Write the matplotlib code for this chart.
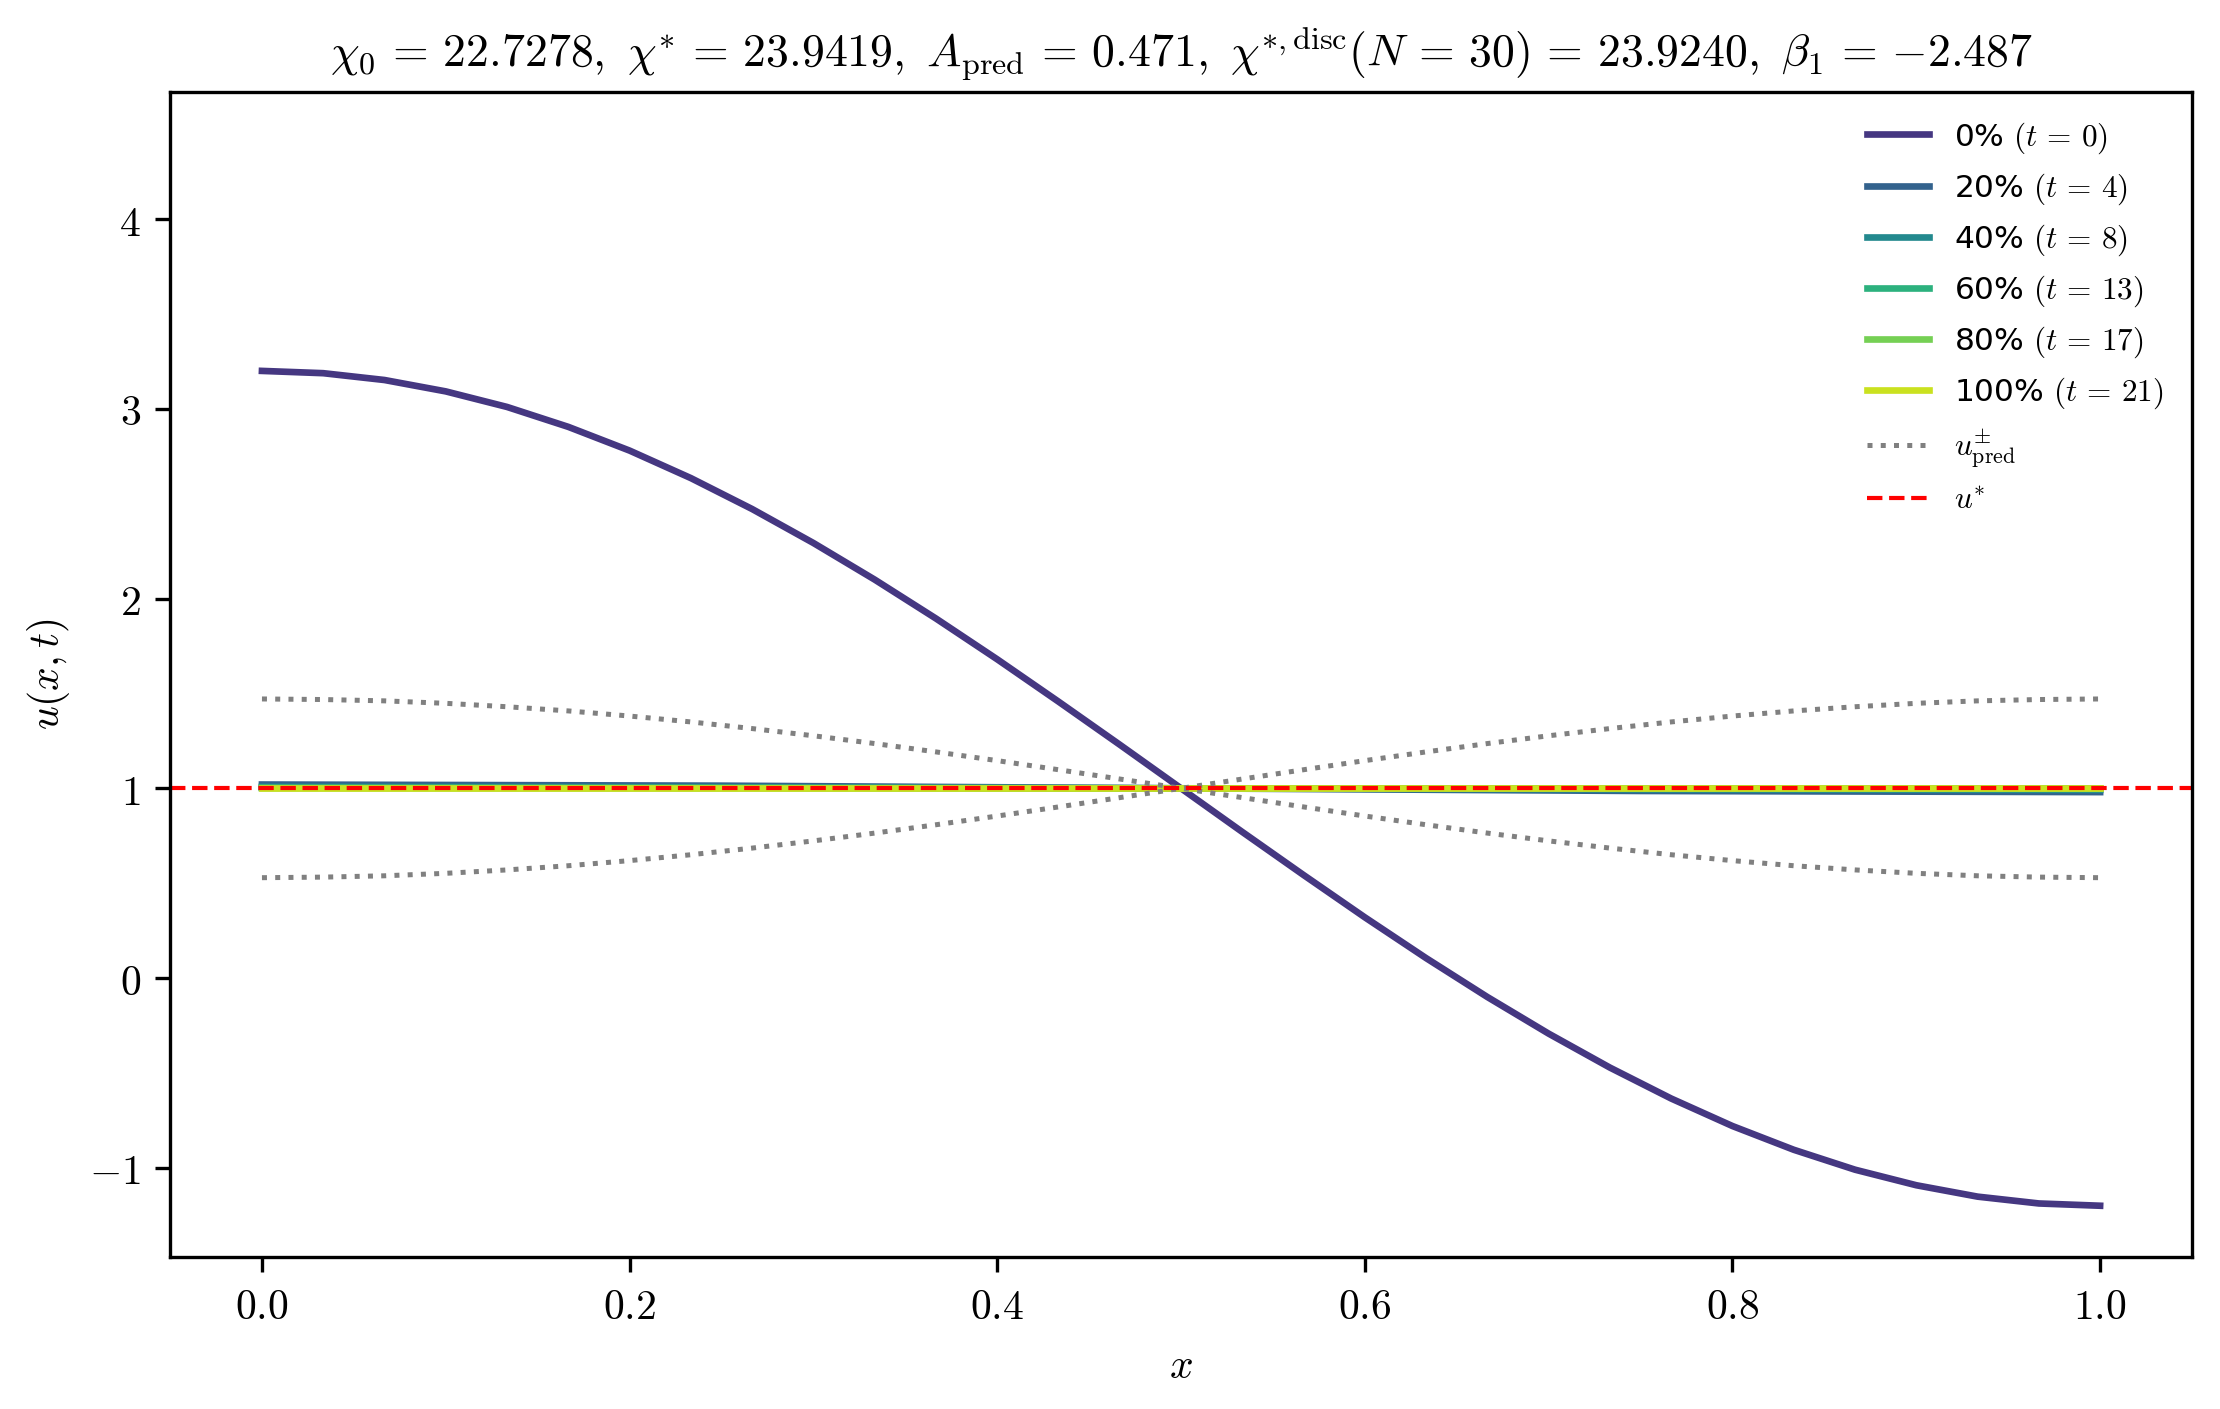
import numpy as np
import matplotlib
matplotlib.use("Agg")
import matplotlib.pyplot as plt
from matplotlib.ticker import FuncFormatter

plt.rcParams['mathtext.fontset'] = 'cm'

# DATA #

X = np.linspace(0.0, 1.0, 31)

U_start = [3.200, 3.188, 3.152, 3.092, 3.010, 2.905, 2.780, 2.635, 2.472, 2.293,
           2.100, 1.895, 1.680, 1.457, 1.230, 1.000, 0.770, 0.543, 0.320, 0.105,
           -0.100, -0.293, -0.472, -0.635, -0.780, -0.905, -1.010, -1.092, -1.152,
           -1.188, -1.200]

U_pred_plus = [1.471, 1.468, 1.461, 1.448, 1.430, 1.408, 1.381, 1.350, 1.315, 1.277,
               1.236, 1.192, 1.146, 1.098, 1.049, 1.000, 0.951, 0.902, 0.854, 0.808,
               0.764, 0.723, 0.685, 0.650, 0.619, 0.592, 0.570, 0.552, 0.539, 0.532,
               0.529]
U_pred_minus = U_pred_plus[::-1]

X_late = [0.0, 0.25, 0.5, 0.75, 1.0]
U_late = {
    4:  [1.020, 1.014, 1.000, 0.986, 0.980],
    8:  [1.008, 1.006, 1.000, 0.994, 0.992],
    13: [1.003, 1.002, 1.000, 0.998, 0.997],
    17: [1.001, 1.001, 1.000, 0.999, 0.999],
    21: [1.000, 1.000, 1.000, 1.000, 1.000],
}
Percents = [0, 20, 40, 60, 80, 100]
Times = [0, 4, 8, 13, 17, 21]

U_star = 1.0

EQ = r'\,=\,'
Title = ('$' + r'\chi_0' + EQ + r'22.7278,\ \chi^{*}' + EQ + r'23.9419,\ A_{\rm pred}' + EQ
         + r'0.471,\ \chi^{*,\rm disc}(N' + EQ + r'30)' + EQ + r'23.9240,\ \beta_1' + EQ
         + r'{-2.487}$')

# FIGURE #

fig = plt.figure(figsize=(7.4, 4.6967), dpi=300)
ax = fig.add_axes([0.0766, 0.1079, 0.9108, 0.8268])

colors = plt.cm.viridis([0.16, 0.31, 0.47, 0.64, 0.79, 0.92])

for k, (p, t) in enumerate(zip(Percents, Times)):
    lab = f'{p}% $(t{EQ}{t})$'
    if t == 0:
        ax.plot(X, U_start, color=colors[k], lw=1.6, label=lab)
    else:
        ax.plot(X_late, U_late[t], color=colors[k], lw=1.6, label=lab)

ax.plot(X, U_pred_plus, color='gray', ls=':', lw=1.2, label=r'$u_{\rm pred}^{\pm}$')
ax.plot(X, U_pred_minus, color='gray', ls=':', lw=1.2)
ax.axhline(U_star, color='red', ls='--', lw=1.0, label=r'$u^{*}$')

ax.set_xlim(-0.05, 1.05)
ax.set_ylim(-1.47, 4.67)
ax.xaxis.set_major_formatter(FuncFormatter(lambda v, pos: f'${v:.1f}$'))
ax.yaxis.set_major_formatter(FuncFormatter(lambda v, pos: f'${v:.0f}$'))
ax.tick_params(labelsize=10)
ax.set_xlabel(r'$x$')
ax.set_ylabel(r'$u(x,t)$')
ax.set_title(Title, fontsize=11)
ax.legend(loc='upper right', frameon=False, fontsize=7.5)

fig.savefig('out.png', dpi=300)
